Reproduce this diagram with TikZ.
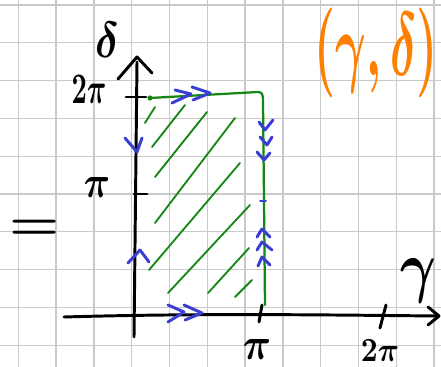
\documentclass[tikz,border=0pt]{standalone}
\usepackage{tikz}
\usetikzlibrary{positioning}

\definecolor{sketchgreen}{RGB}{20,135,20}
\definecolor{sketchblue}{RGB}{58,62,210}
\definecolor{sketchorange}{RGB}{255,128,0}
\definecolor{gridgray}{RGB}{202,202,202}

% handwritten-size symbol: horizontal scale, vertical scale, formula
\newcommand{\bigsym}[3]{\scalebox{#1}[#2]{\boldmath$#3$}}

\begin{document}
\begin{tikzpicture}[
    x=0.025cm, y=-0.025cm,
    gridline/.style={draw=gridgray, line width=0.9pt},
    axis/.style={draw=black, line width=2.1pt, line cap=round, line join=round},
    region/.style={draw=sketchgreen, line width=1.6pt, line cap=round},
    flow/.style={draw=sketchblue, line width=2.1pt, line cap=round, line join=round},
    every node/.style={inner sep=0pt}
]

\fill[white] (0,0) rectangle (441,367);
\useasboundingbox (0,0) rectangle (441,367);

% squared paper
\foreach \i in {0,...,11} {
    \draw[gridline] ({18.3+37.8*\i},0) -- ({18.3+37.8*\i},367);
}
\foreach \j in {0,...,9} {
    \draw[gridline] (0,{5+37.8*\j}) -- (441,{5+37.8*\j});
}

% axes
\draw[axis] (134,337) -- (137,62);
\draw[axis] (118,79) -- (137,57) -- (152,73);
\draw[axis] (64,317) .. controls (200,313) and (330,315) .. (438,316);
\draw[axis] (428,307) -- (439,316) -- (428,325);

% ticks
\draw[axis] (126,97) -- (146,97);
\draw[axis] (134,194) -- (147,194);
\draw[axis] (259,322) -- (262,305);
\draw[axis] (380,328) -- (386,305);

% labels
\node (ylabel) at (107,40) {\bigsym{3}{3.6}{\delta}};
\node (ytwopi) at (89,89) {\bigsym{1.9}{3.1}{2\pi}};
\node (ypi) at (97,188) {\bigsym{2.6}{3.2}{\pi}};
\node (xpi) at (257,349) {\bigsym{2.8}{3.2}{\pi}};
\node (xtwopi) at (380,351) {\bigsym{2.1}{2.4}{2\pi}};
\node (xlabel) at (418,281) {\bigsym{3.9}{4.9}{\gamma}};
\node (equals) at (35,230) {\bigsym{4}{3.5}{=}};
\node[text=sketchorange, anchor=base west] (pair) at (314,76) {\bigsym{3.35}{6.4}{(\gamma,\delta)}};

% shaded region
\fill[sketchgreen] (150,98) circle (2.6);
\draw[region] (150,98) -- (258,92) .. controls (263,92) and (263,96) .. (263,102)
    -- (264,200) -- (265,305);
\draw[region, line width=1.3pt]
    (145,123) -- (155,107)
    (152,147) -- (185,105)
    (155,177) -- (207,112)
    (155,223) -- (235,118)
    (149,270) -- (240,163)
    (168,293) -- (250,205)
    (208,293) -- (249,248)
    (235,297) -- (252,280);

% direction marks
\draw[flow] (175,90) -- (191,94) -- (172,103)
    (192,87) -- (210,93) -- (193,100);
\draw[flow] (168,305) -- (184,312) -- (168,322)
    (184,305) -- (202,313) -- (185,320);
\draw[flow] (125,138) -- (137,152) -- (142,138);
\draw[flow] (128,263) -- (140,250) -- (149,262);
\draw[flow] (259,122) -- (265,130) -- (273,120)
    (260,137) -- (267,145) -- (272,137)
    (257,152) -- (264,160) -- (270,153);
\draw[flow] (257,237) -- (262,229) -- (270,237)
    (257,250) -- (262,242) -- (272,250)
    (258,266) -- (262,257) -- (270,265);
\draw[flow, line width=1.4pt] (260,201) -- (266,201);

\end{tikzpicture}
\end{document}
